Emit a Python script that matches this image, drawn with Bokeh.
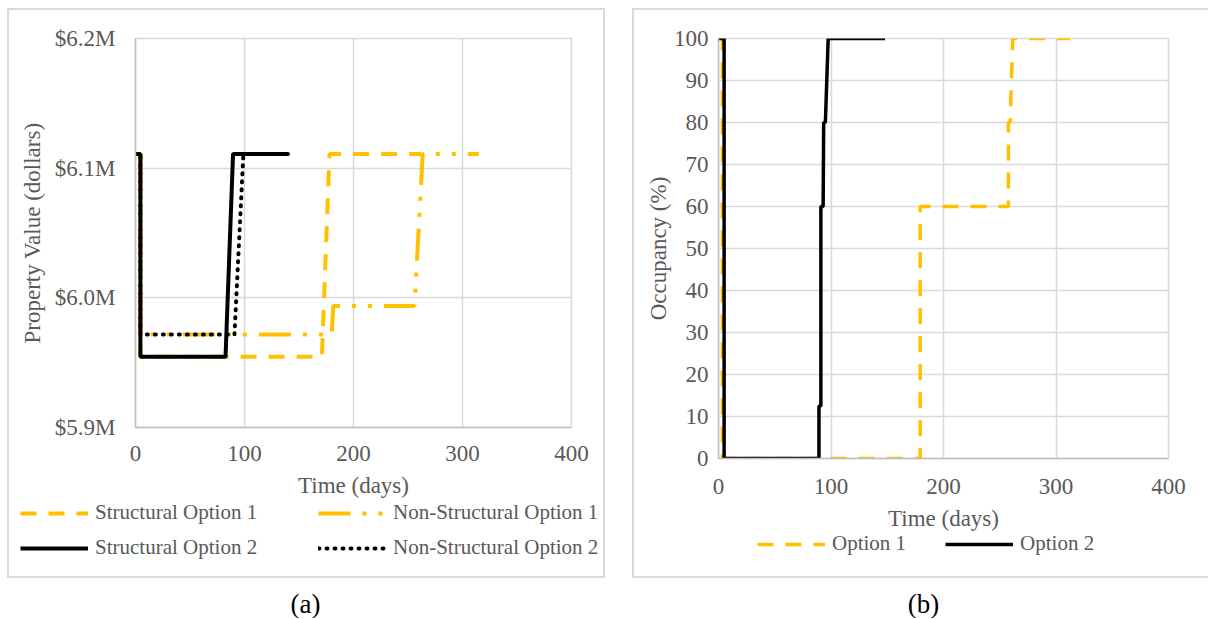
from bokeh.plotting import figure
from bokeh.models import Range1d, FixedTicker, Legend, LegendItem, Label, Spacer
from bokeh.layouts import row, column
from bokeh.embed import file_html
from bokeh.resources import INLINE

# ---------------- data ----------------
x_ticks = [0, 100, 200, 300, 400]
value_ticks = [5900000, 6000000, 6100000, 6200000]
value_tick_labels = ["$5.9M", "$6.0M", "$6.1M", "$6.2M"]
occ_ticks = [0, 10, 20, 30, 40, 50, 60, 70, 80, 90, 100]

# (a) property value (dollars) vs time (days)
struct_opt1_days = [0, 4.5, 4.5, 171, 178, 262]
struct_opt1_value = [6111000, 6111000, 5954500, 5954500, 6111000, 6111000]

nonstruct_opt1_days = [0, 4.5, 4.5, 180, 181.5, 256, 263.5, 315]
nonstruct_opt1_value = [6111000, 6111000, 5971700, 5971700, 5993700, 5993700, 6111000, 6111000]

struct_opt2_days = [0, 4.5, 4.5, 82.6, 89.5, 139]
struct_opt2_value = [6111000, 6111000, 5954500, 5954500, 6111000, 6111000]

nonstruct_opt2_days = [0, 4.5, 4.5, 90.8, 99, 145]
nonstruct_opt2_value = [6111000, 6111000, 5971700, 5971700, 6111000, 6111000]

# (b) occupancy (%) vs time (days)
opt1_days = [0, 3.5, 3.5, 179.3, 179.3, 257.7, 257.7, 259.3, 261.5, 312.7]
opt1_occ = [100, 100, 0, 0, 60, 60, 80, 80, 100, 100]

opt2_days = [0, 5, 5, 89.3, 89.3, 91, 91, 93, 93.5, 95, 97.5, 148]
opt2_occ = [100, 100, 0, 0, 12.5, 12.5, 60, 60, 80, 80, 100, 100]

NAN = float("nan")  # legend-only proxy lines draw nothing in the plot area

# ---------------- style ----------------
FONT = "Liberation Serif"
TXT = "#595959"
GRID = "#d9d9d9"
AXIS = "#bfbfbf"
YELLOW = "#FFC000"
BLACK = "#000000"
BORDER = "2px solid #d9d9d9"

S1 = dict(line_color=YELLOW, line_width=4, line_dash="16 12")
N1 = dict(line_color=YELLOW, line_width=4, line_dash="32 12 4 12 4 12")
S2 = dict(line_color=BLACK, line_width=4)
N2 = dict(line_color=BLACK, line_width=4, line_dash="1 7", line_cap="round")
O1 = dict(line_color=YELLOW, line_width=3.5, line_dash="16 12")
O2 = dict(line_color=BLACK, line_width=3.5)


def style_axes(p, xlabel, ylabel, ystandoff, xstandoff, ytitle_standoff, xtitle_standoff):
    p.xaxis.axis_label = xlabel
    p.yaxis.axis_label = ylabel
    for ax in p.xaxis + p.yaxis:
        ax.major_label_text_font = FONT
        ax.major_label_text_font_size = "23px"
        ax.major_label_text_color = TXT
        ax.axis_label_text_font = FONT
        ax.axis_label_text_font_size = "23px"
        ax.axis_label_text_font_style = "normal"
        ax.axis_label_text_color = TXT
        ax.major_tick_line_color = None
        ax.minor_tick_line_color = None
        ax.major_tick_out = 0
        ax.major_tick_in = 0
        ax.minor_tick_out = 0
        ax.minor_tick_in = 0
        ax.axis_line_color = AXIS
        ax.axis_line_width = 1.5
    p.yaxis.major_label_standoff = ystandoff
    p.xaxis.major_label_standoff = xstandoff
    p.yaxis.axis_label_standoff = ytitle_standoff
    p.xaxis.axis_label_standoff = xtitle_standoff
    p.xgrid.grid_line_color = GRID
    p.ygrid.grid_line_color = GRID
    p.xgrid.grid_line_width = 1.5
    p.ygrid.grid_line_width = 1.5
    p.outline_line_color = GRID
    p.outline_line_width = 1.5
    p.border_fill_alpha = 0


def blank_fig(width, height):
    f = figure(width=width, height=height, x_range=Range1d(0, 1), y_range=Range1d(0, 1),
               output_backend="svg", toolbar_location=None, min_border=0,
               x_axis_type=None, y_axis_type=None)
    f.outline_line_color = None
    f.xgrid.visible = False
    f.ygrid.visible = False
    f.border_fill_alpha = 0
    f.background_fill_alpha = 0
    return f


def make_legend(items, loc, orientation, spacing, h):
    return Legend(items=items, location=loc, orientation=orientation, spacing=spacing,
                  glyph_width=68, glyph_height=h, label_height=h, label_standoff=7,
                  padding=0, margin=0, border_line_color=None, background_fill_alpha=0,
                  label_text_font=FONT, label_text_font_size="21px", label_text_color=TXT)


# ---------------- panel (a) ----------------
pa = figure(width=598, height=492, x_range=Range1d(0, 400), y_range=Range1d(5900000, 6200000),
            output_backend="svg", toolbar_location=None,
            min_border_left=126, min_border_right=36, min_border_top=28, min_border_bottom=75)
pa.xaxis.ticker = FixedTicker(ticks=x_ticks)
pa.xgrid.ticker = FixedTicker(ticks=x_ticks)
pa.yaxis.ticker = FixedTicker(ticks=value_ticks)
pa.ygrid.ticker = FixedTicker(ticks=value_ticks)
pa.yaxis.major_label_overrides = {v: s for v, s in zip(value_ticks, value_tick_labels)}
style_axes(pa, "Time (days)", "Property Value (dollars)", 20, 18, 7, 9)

pa.line(struct_opt1_days, struct_opt1_value, **S1)
pa.line(nonstruct_opt1_days, nonstruct_opt1_value, **N1)
pa.line(struct_opt2_days, struct_opt2_value, **S2)
pa.line(nonstruct_opt2_days, nonstruct_opt2_value, **N2)
pa.styles = {"border-top": BORDER, "border-left": BORDER, "border-right": BORDER}

la = blank_fig(598, 78)
k_s1 = la.line([NAN], [NAN], **S1)
k_n1 = la.line([NAN], [NAN], **N1)
k_s2 = la.line([NAN], [NAN], **S2)
k_n2 = la.line([NAN], [NAN], **N2)
la.add_layout(make_legend([LegendItem(label="Structural Option 1", renderers=[k_s1]),
                           LegendItem(label="Structural Option 2", renderers=[k_s2])],
                          (11, 18), "vertical", 10, 24))
la.add_layout(make_legend([LegendItem(label="Non-Structural Option 1", renderers=[k_n1]),
                           LegendItem(label="Non-Structural Option 2", renderers=[k_n2])],
                          (309, 18), "vertical", 10, 24))
la.styles = {"border-bottom": BORDER, "border-left": BORDER, "border-right": BORDER}

# ---------------- panel (b) ----------------
pb = figure(width=576, height=523, x_range=Range1d(0, 400), y_range=Range1d(0, 100),
            output_backend="svg", toolbar_location=None,
            min_border_left=84, min_border_right=42, min_border_top=28, min_border_bottom=74)
pb.xaxis.ticker = FixedTicker(ticks=x_ticks)
pb.xgrid.ticker = FixedTicker(ticks=x_ticks)
pb.yaxis.ticker = FixedTicker(ticks=occ_ticks)
pb.ygrid.ticker = FixedTicker(ticks=occ_ticks)
style_axes(pb, "Time (days)", "Occupancy (%)", 10, 20, 0, 9)

pb.line(opt1_days, opt1_occ, **O1)
pb.line(opt2_days, opt2_occ, **O2)
pb.styles = {"border-top": BORDER, "border-left": BORDER}

lb = blank_fig(576, 47)
k_o1 = lb.line([NAN], [NAN], **O1)
k_o2 = lb.line([NAN], [NAN], **O2)
lb.add_layout(make_legend([LegendItem(label="Option 1", renderers=[k_o1]),
                           LegendItem(label="Option 2", renderers=[k_o2])],
                          (123, 22), "horizontal", 39, 22))
lb.styles = {"border-bottom": BORDER, "border-left": BORDER}

# ---------------- captions ----------------
pc = figure(width=1208, height=40, x_range=Range1d(0, 1208), y_range=Range1d(0, 40),
            output_backend="svg", toolbar_location=None, min_border=0,
            x_axis_type=None, y_axis_type=None)
pc.outline_line_color = None
pc.xgrid.visible = False
pc.ygrid.visible = False
for txt, xc in (("(a)", 305), ("(b)", 923)):
    pc.add_layout(Label(x=xc, y=15, text=txt, text_align="center", text_baseline="middle",
                        text_font=FONT, text_font_size="27px", text_color=BLACK))

panel_a = column(row(pa), row(la), spacing=0)
panel_b = column(row(pb), row(lb), spacing=0)
layout = column(Spacer(height=8),
                row(Spacer(width=7), panel_a, Spacer(width=27), panel_b, spacing=0),
                pc, spacing=0)
open("out.html", "w").write(file_html(layout, INLINE))
